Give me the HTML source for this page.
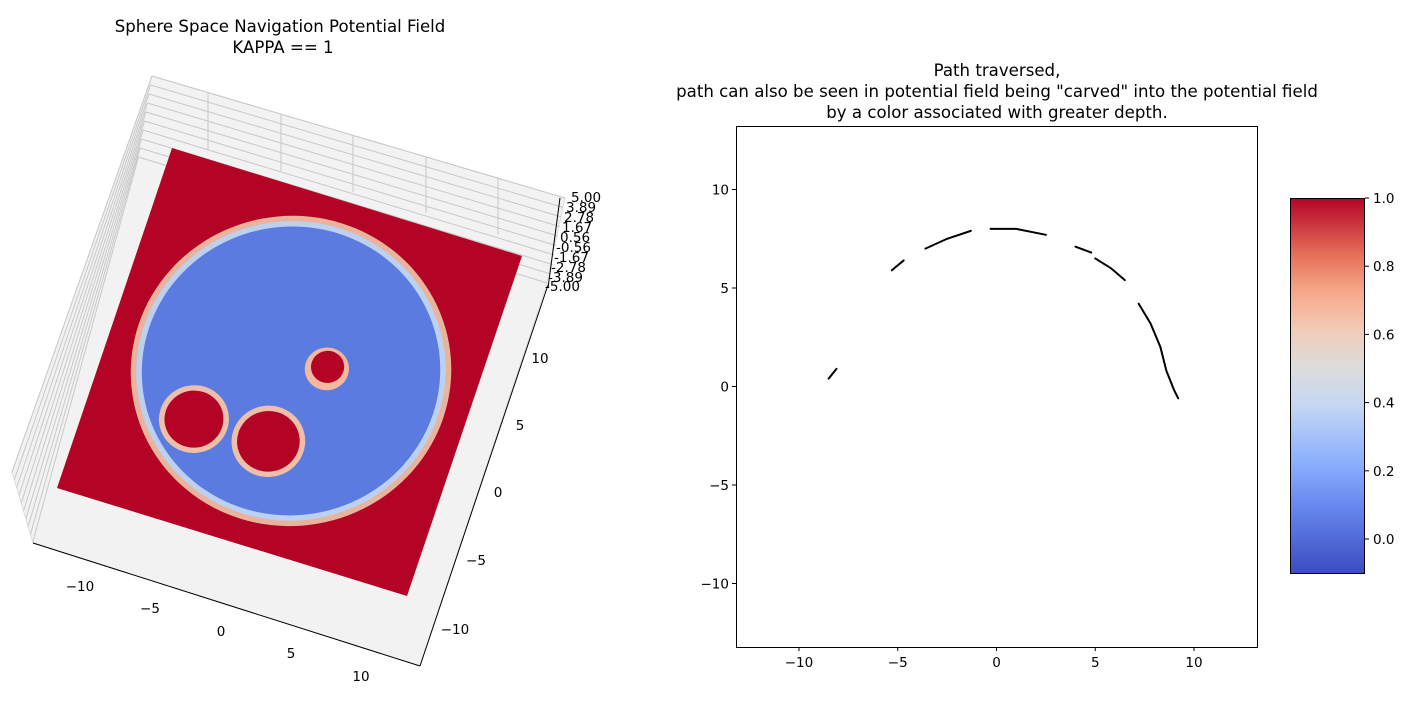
<!DOCTYPE html>
<html><head><meta charset="utf-8"><style>
body{margin:0;background:#fff;font-family:"Liberation Sans","DejaVu Sans",sans-serif}
svg text{font-family:"DejaVu Sans","Liberation Sans",sans-serif}
</style></head><body>
<svg id="fig" width="1404" height="716" xmlns="http://www.w3.org/2000/svg">
<defs>
<linearGradient id="cw" x1="0" y1="1" x2="0" y2="0">
<stop offset="0" stop-color="#3b4cc0"/><stop offset="0.18" stop-color="#6788ee"/><stop offset="0.3" stop-color="#8db0fe"/>
<stop offset="0.45" stop-color="#c5d7f3"/><stop offset="0.55" stop-color="#dddcdc"/><stop offset="0.65" stop-color="#f2cbb7"/>
<stop offset="0.75" stop-color="#f7a889"/><stop offset="0.85" stop-color="#e57058"/><stop offset="1" stop-color="#b40426"/>
</linearGradient>
</defs>
<g>
<text x="280" y="32" font-size="16.6" text-anchor="middle">Sphere Space Navigation Potential Field</text>
<text x="283" y="53" font-size="16.6" text-anchor="middle">KAPPA == 1</text>
<polygon points="152,76 565,198 545,290 420,666 33,543 12,472" fill="#f2f2f2" stroke="#ddd"/>
<g id="grid3d" stroke="#c8c8c8" stroke-width="1"></g>
<g transform="matrix(350,108,-115,340,172,148)">
<rect x="0" y="0" width="1" height="1" fill="#b40426"/>
<circle cx="0.503" cy="0.496" r="0.435" fill="#eab39c"/>
<circle cx="0.503" cy="0.496" r="0.42" fill="#bcd0f0"/>
<circle cx="0.503" cy="0.496" r="0.405" fill="#5b7be0"/>
<circle cx="0.294" cy="0.704" r="0.095" fill="#eec0aa"/>
<circle cx="0.294" cy="0.704" r="0.08" fill="#b40426"/>
<circle cx="0.506" cy="0.702" r="0.1" fill="#eec0aa"/>
<circle cx="0.506" cy="0.702" r="0.085" fill="#b40426"/>
<circle cx="0.594" cy="0.461" r="0.06" fill="#f2b8a0"/>
<circle cx="0.594" cy="0.455" r="0.045" fill="#b40426"/>
</g>
<g stroke="#000" stroke-width="1" fill="none">
<line x1="33" y1="543" x2="420" y2="666"/>
<line x1="420" y1="666" x2="548" y2="285"/>
<line x1="560" y1="198" x2="548" y2="288"/>
</g>
<g font-size="13.5" text-anchor="middle">
<text x="80" y="591">−10</text><text x="150" y="613">−5</text><text x="221" y="636">0</text><text x="291" y="658">5</text><text x="361" y="681">10</text>
</g>
<g font-size="13.5" text-anchor="middle">
<text x="540" y="363">10</text><text x="520" y="430">5</text><text x="498" y="497">0</text><text x="476" y="565">−5</text><text x="455" y="634">−10</text>
</g>
<g font-size="13.5">
<text x="571" y="202">5.00</text><text x="566" y="212">3.89</text><text x="564" y="222">2.78</text><text x="562" y="232">1.67</text><text x="560" y="242">0.56</text><text x="556" y="252">-0.56</text><text x="554" y="262">-1.67</text><text x="551" y="272">-2.78</text><text x="548" y="282">-3.89</text><text x="545" y="291">-5.00</text>
</g>
</g>
<g>
<text x="997" y="76" font-size="16.6" text-anchor="middle">Path traversed,</text>
<text x="997" y="97" font-size="16.6" text-anchor="middle">path can also be seen in potential field being "carved" into the potential field</text>
<text x="997" y="118" font-size="16.6" text-anchor="middle">by a color associated with greater depth.</text>
<rect x="736.5" y="126.5" width="521" height="521" fill="#fff" stroke="#000"/>
<g id="ticks2d" font-size="13.5"></g>
<g id="paths" stroke="#000" fill="none" stroke-width="2" stroke-linecap="round"></g>
<rect x="1290.5" y="198.5" width="74" height="375" fill="url(#cw)" stroke="#000"/>
<g id="cbticks" font-size="13.5"></g>
</g>
</svg>
<script>
const xTicks=[-10,-5,0,5,10];
const yTicks=[-10,-5,0,5,10];
const cbTicks=[0.0,0.2,0.4,0.6,0.8,1.0];
const cbLabels=["0.0","0.2","0.4","0.6","0.8","1.0"];
const seg1X=[-8.5,-8.1], seg1Y=[0.4,0.9];
const seg2X=[-5.3,-4.7], seg2Y=[5.9,6.4];
const seg3X=[-3.6,-2.5,-1.3], seg3Y=[7.0,7.5,7.9];
const seg4X=[-0.3,1.0,2.5], seg4Y=[8.0,8.0,7.7];
const seg5X=[4.0,4.8], seg5Y=[7.1,6.8];
const seg6X=[5.0,5.8,6.5], seg6Y=[6.5,6.0,5.4];
const seg7X=[7.2,7.8,8.3,8.6,9.0,9.2], seg7Y=[4.2,3.2,2.0,0.8,-0.2,-0.6];
const NS="http://www.w3.org/2000/svg";
const sx=v=>996.5+v*19.75, sy=v=>386.5-v*19.7;
const cy=v=>539-(v)*341;
function mk(t,p){const e=document.createElementNS(NS,t);for(const k in p)e.setAttribute(k,p[k]);return e;}
const tg=document.getElementById('ticks2d');
xTicks.forEach(t=>{const l=mk('line',{x1:sx(t),x2:sx(t),y1:647,y2:651,stroke:'#000'});

tg.appendChild(l);
const tx=mk('text',{x:sx(t),y:667,'text-anchor':'middle'});tx.textContent=t<0?'−'+(-t):t;

tg.appendChild(tx);});
yTicks.forEach(t=>{const l=mk('line',{x1:732,x2:736,y1:sy(t),y2:sy(t),stroke:'#000'});

tg.appendChild(l);
const tx=mk('text',{x:729,y:sy(t)+5,'text-anchor':'end'});tx.textContent=t<0?'−'+(-t):t;

tg.appendChild(tx);});
const cg=document.getElementById('cbticks');
cbTicks.forEach((t,i)=>{const l=mk('line',{x1:1365,x2:1369,y1:cy(t),y2:cy(t),stroke:'#000'});

cg.appendChild(l);
const tx=mk('text',{x:1373,y:cy(t)+5});tx.textContent=cbLabels[i];

cg.appendChild(tx);});
const pg=document.getElementById('paths');
[[seg1X,seg1Y],[seg2X,seg2Y],[seg3X,seg3Y],[seg4X,seg4Y],[seg5X,seg5Y],[seg6X,seg6Y],[seg7X,seg7Y]].forEach(([X,Y])=>{
const p=mk('polyline',{points:X.map((x,i)=>sx(x)+','+sy(Y[i])).join(' ')});

pg.appendChild(p);});
const g3=document.getElementById('grid3d');
for(let i=0;i<10;i++){const l=mk('line',{x1:152-i*1.5,y1:76+i*9,x2:565-i*1.8,y2:198+i*9.5});

g3.appendChild(l);
const l2=mk('line',{x1:152-i*1.5,y1:76+i*9,x2:12+i*2.3,y2:472+i*7.8});

g3.appendChild(l2);}
[208,281,353,426,498].forEach((x,i)=>{const l=mk('line',{x1:x,y1:92+i*21.5,x2:x,y2:150+i*21});

g3.appendChild(l);});
</script>
</body></html>
